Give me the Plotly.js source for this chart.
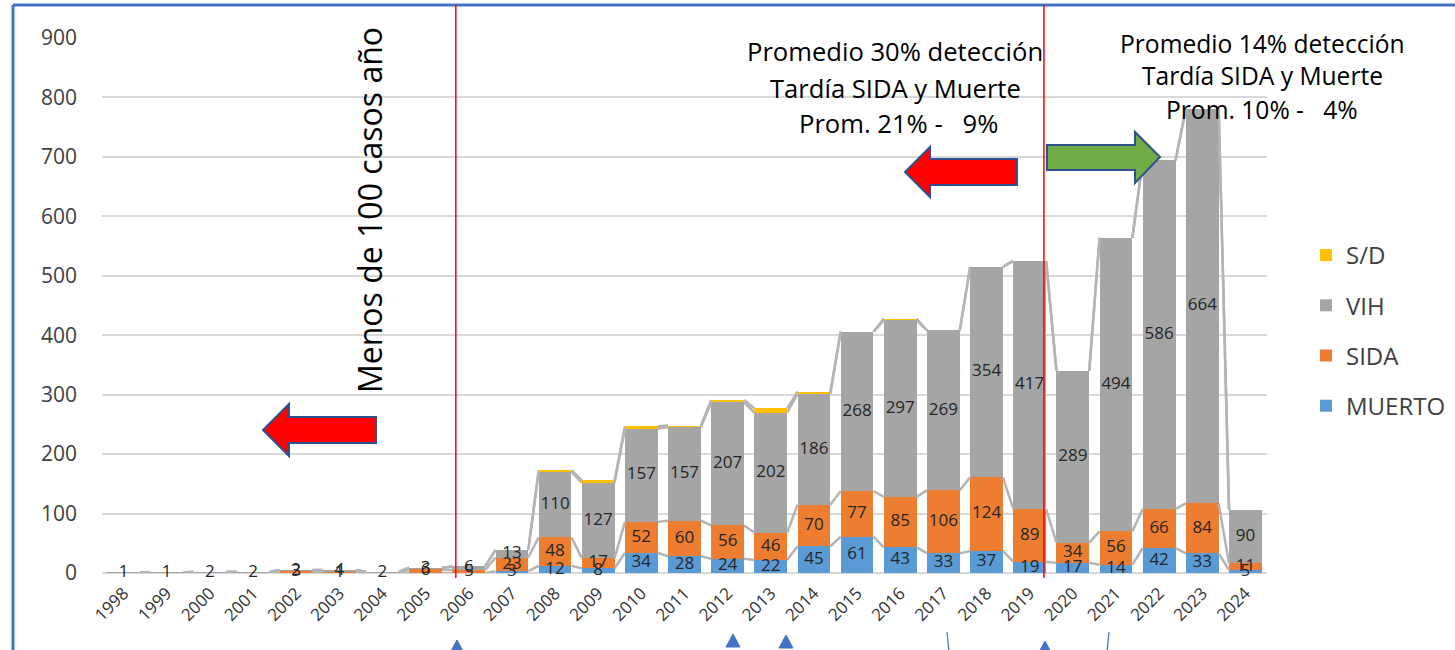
<!DOCTYPE html>
<html>
<head>
<meta charset="utf-8">
<script src="https://cdn.plot.ly/plotly-3.0.1.min.js"></script>
<style>html,body{margin:0;padding:0;background:#fff;}#chart{width:1455px;height:650px;}</style>
</head>
<body>
<div id="chart"></div>
<script>
// ---- data ----
const years  = [1998,1999,2000,2001,2002,2003,2004,2005,2006,2007,2008,2009,2010,2011,2012,2013,2014,2015,2016,2017,2018,2019,2020,2021,2022,2023,2024];
const muerto = [0,0,0,0,0,0,0,0,0,3,12,8,34,28,24,22,45,61,43,33,37,19,17,14,42,33,5];
const sida   = [0,0,0,0,3,1,0,6,5,23,48,17,52,60,56,46,70,77,85,106,124,89,34,56,66,84,11];
const vih    = [1,1,2,2,2,4,2,3,6,13,110,127,157,157,207,202,186,268,297,269,354,417,289,494,586,664,90];
const sd     = [0,0,0,0,0,0,0,0,0,0,3,4,4,3,4,7,4,0,3,0,0,0,0,0,0,0,0];
const seriesNames = ['MUERTO','SIDA','VIH','S/D'];
const yTicks = [0,100,200,300,400,500,600,700,800,900];

// ---- layout geometry helpers (pixel -> paper) ----
const L = 102, T = 38, PW = 1165, PH = 535;
const px = x => (x - L) / PW;
const py = y => (T + PH - y) / PH;
const BW = 0.76;

const colors = ['#5B9BD5','#ED7D31','#A5A5A5','#FFC000'];
const ranks = [4, 3, 2, 1];
const vals = [muerto, sida, vih, sd];
const traces = [];
vals.forEach((v, k) => {
  traces.push({
    type: 'bar', name: seriesNames[k], x: years, y: v, width: BW,
    marker: {color: colors[k], line: {width: 0}},
    legendgroup: 'g' + k, legendrank: ranks[k], hoverinfo: 'x+y+name'
  });
});
// series lines (cumulative tops) and data labels (segment centres)
let cum = years.map(() => 0);
const labelTraces = [];
vals.forEach((v, k) => {
  const base = cum.slice();
  cum = cum.map((c, i) => c + v[i]);
  const xs = [], ys = [];
  for (let i = 0; i < years.length - 1; i++) {
    xs.push(years[i] + BW / 2, years[i + 1] - BW / 2, null);
    ys.push(cum[i], cum[i + 1], null);
  }
  traces.push({type: 'scatter', mode: 'lines', x: xs, y: ys, showlegend: false,
    hoverinfo: 'skip', line: {color: '#B4B4B4', width: 2.5}});
  if (k < 3) {
    labelTraces.push({type: 'scatter', mode: 'text', x: years, y: v.map((a, i) => base[i] + a / 2),
      text: v.map(a => a > 0 ? String(a) : ''), textposition: 'middle center', cliponaxis: false,
      textfont: {family: 'Open Sans', size: 17, color: '#262626'}, showlegend: false, hoverinfo: 'skip'});
  }
});
labelTraces.forEach(t => traces.push(t));

function arrowPath(pts) {
  return 'M' + pts.map(p => px(p[0]) + ',' + py(p[1])).join(' L') + ' Z';
}
const shapes = [];
// blue frame
shapes.push({type:'line', xref:'paper', yref:'paper', x0:px(13), x1:px(13), y0:py(5), y1:py(660), line:{color:'#4472C4', width:3}});
shapes.push({type:'line', xref:'paper', yref:'paper', x0:px(13), x1:px(1460), y0:py(5), y1:py(5), line:{color:'#4472C4', width:3}});
// red vertical lines
[2005.70, 2019.33].forEach(xv => shapes.push({type:'line', xref:'x', yref:'paper', x0:xv, x1:xv, y0:py(578), y1:py(5), line:{color:'#FF0000', width:1.5}}));
// block arrows
const arrowLine = {color:'#2F528F', width:2};
shapes.push({type:'path', xref:'paper', yref:'paper', fillcolor:'#FF0000', line:arrowLine,
  path: arrowPath([[376,417],[289,417],[289,404],[263,430],[289,456],[289,443],[376,443]])});
shapes.push({type:'path', xref:'paper', yref:'paper', fillcolor:'#FF0000', line:arrowLine,
  path: arrowPath([[1017,159],[930,159],[930,147],[905,172],[930,197],[930,185],[1017,185]])});
shapes.push({type:'path', xref:'paper', yref:'paper', fillcolor:'#70AD47', line:arrowLine,
  path: arrowPath([[1047,145],[1135,145],[1135,132],[1160,157],[1135,183],[1135,170],[1047,170]])});
// small blue arrow heads / shafts at bottom
[[457,640],[733,634],[786,635],[1045,641]].forEach(p => shapes.push({type:'path', xref:'paper', yref:'paper',
  fillcolor:'#4472C4', line:{color:'#4472C4', width:1},
  path: arrowPath([[p[0],p[1]],[p[0]+7,p[1]+13],[p[0]-7,p[1]+13]])}));
shapes.push({type:'line', xref:'paper', yref:'paper', x0:px(947), x1:px(949), y0:py(632), y1:py(652), line:{color:'#4472C4', width:1.2}});
shapes.push({type:'line', xref:'paper', yref:'paper', x0:px(1109), x1:px(1107), y0:py(632), y1:py(652), line:{color:'#4472C4', width:1.2}});

const annFont = {family:'Open Sans', size:24, color:'#000'};
const mk = (text, x, y, size) => ({text, xref:'paper', yref:'paper', x:px(x), y:py(y), xanchor:'center', yanchor:'middle',
  showarrow:false, font:Object.assign({}, annFont, {size})});
const NB = '\u00A0';
const annotations = [
  mk('Promedio 30% detección', 895, 52, 25.6),
  mk('Tardía SIDA y Muerte', 895, 88, 25.6),
  mk('Prom. 21% -' + NB + NB + NB + '9%', 898, 123, 25.6),
  mk('Promedio 14% detección', 1262, 43, 24.6),
  mk('Tardía SIDA y Muerte', 1262, 75, 24.6),
  mk('Prom. 10% -' + NB + NB + NB + '4%', 1262, 109, 24.6),
  Object.assign(mk('Menos de 100 casos año', 370, 210, 32), {textangle:-90})
];

const layout = {
  width:1455, height:650,
  margin:{l:L, r:1455 - L - PW, t:T, b:650 - T - PH, pad:0, autoexpand:false},
  paper_bgcolor:'#fff', plot_bgcolor:'#fff',
  barmode:'stack', bargap:0,
  font:{family:'Open Sans', color:'#404040'},
  xaxis:{range:[1997.5, 2024.5], tickvals:years, ticktext:years.map(String), tickangle:-45,
    tickfont:{size:17, color:'#333333'}, showgrid:false, zeroline:false, showline:false, ticks:'',
    ticklabelstandoff:6},
  yaxis:{range:[0,900], tickvals:yTicks, ticktext:yTicks.map(String), tickfont:{size:21, color:'#404040'},
    showgrid:true, gridcolor:'#D9D9D9', gridwidth:2, zeroline:true, zerolinecolor:'#D9D9D9', zerolinewidth:2,
    showline:false, ticks:'', ticklabelstandoff:24},
  legend:{x:px(1306), y:py(233), xanchor:'left', yanchor:'top', traceorder:'grouped', tracegroupgap:16,
    font:{size:24, color:'#404040'}, bgcolor:'rgba(0,0,0,0)'},
  shapes, annotations
};
Plotly.newPlot('chart', traces, layout, {displayModeBar:false, staticPlot:true});
</script>
</body>
</html>
